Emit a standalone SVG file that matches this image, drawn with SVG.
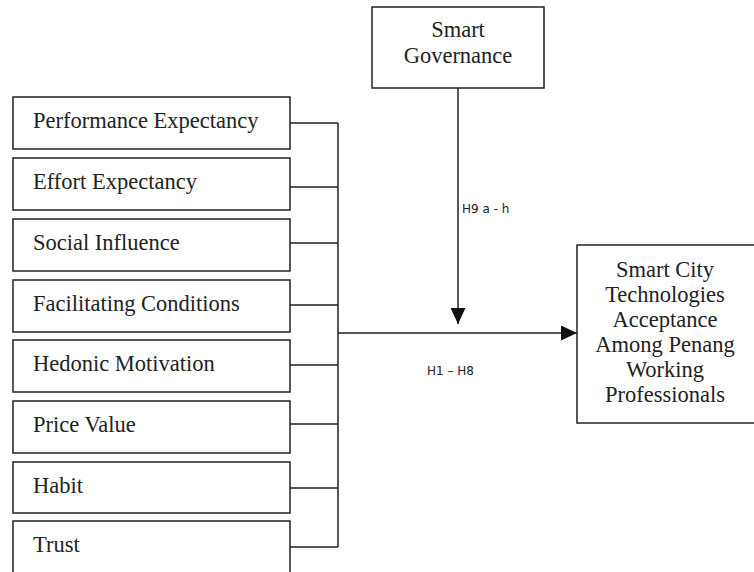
<svg xmlns="http://www.w3.org/2000/svg" width="754" height="572" viewBox="0 0 754 572">
<defs>
<style>
.box{fill:#fff;stroke:#222;stroke-width:1.5}
.t{font-family:"Liberation Serif","Times New Roman",serif;font-size:22.5px;fill:#222}
.c{text-anchor:middle}
.ln{fill:none;stroke:#222;stroke-width:1.5}
.lbl{font-family:"DejaVu Sans",sans-serif;font-size:12px;fill:#222}
</style>
<marker id="ah" markerWidth="16" markerHeight="15" refX="16" refY="7.5" orient="auto" markerUnits="userSpaceOnUse" viewBox="0 0 16 15">
<path d="M0,0 L16,7.5 L0,15 Z" fill="#111"/>
</marker>
</defs>
<rect width="754" height="572" fill="#fff"/>
<g id="connectors">
<path class="ln" d="M290,123 H338 M290,187 H338 M290,243 H338 M290,305 H338 M290,365 H338 M290,424 H338 M290,488 H338 M290,547 H338 M338,123 V547"/>
<path class="ln" d="M338,333 H577" marker-end="url(#ah)"/>
<path class="ln" d="M458,88 V324" marker-end="url(#ah)"/>
<text class="lbl" x="462" y="213">H9 a - h</text>
<text class="lbl" x="427" y="375">H1 – H8</text>
</g>
<g id="n-pe"><rect class="box" x="13" y="97" width="277" height="52"/><text class="t" x="33" y="128">Performance Expectancy</text></g>
<g id="n-ee"><rect class="box" x="13" y="158" width="277" height="52"/><text class="t" x="33" y="189">Effort Expectancy</text></g>
<g id="n-si"><rect class="box" x="13" y="219" width="277" height="52"/><text class="t" x="33" y="250">Social Influence</text></g>
<g id="n-fc"><rect class="box" x="13" y="280" width="277" height="52"/><text class="t" x="33" y="311">Facilitating Conditions</text></g>
<g id="n-hm"><rect class="box" x="13" y="340" width="277" height="52"/><text class="t" x="33" y="371">Hedonic Motivation</text></g>
<g id="n-pv"><rect class="box" x="13" y="401" width="277" height="52"/><text class="t" x="33" y="432">Price Value</text></g>
<g id="n-hb"><rect class="box" x="13" y="462" width="277" height="51"/><text class="t" x="33" y="493">Habit</text></g>
<g id="n-tr"><rect class="box" x="13" y="521" width="277" height="53"/><text class="t" x="33" y="552">Trust</text></g>
<g id="n-sg"><rect class="box" x="372" y="7" width="172" height="81"/><text class="t c" x="458" y="37">Smart</text><text class="t c" x="458" y="63">Governance</text></g>
<g id="n-sc"><rect class="box" x="577" y="245" width="190" height="178"/>
<text class="t c" x="665" y="277">Smart City</text>
<text class="t c" x="665" y="302">Technologies</text>
<text class="t c" x="665" y="327">Acceptance</text>
<text class="t c" x="665" y="352">Among Penang</text>
<text class="t c" x="665" y="377">Working</text>
<text class="t c" x="665" y="402">Professionals</text>
</g>
</svg>
